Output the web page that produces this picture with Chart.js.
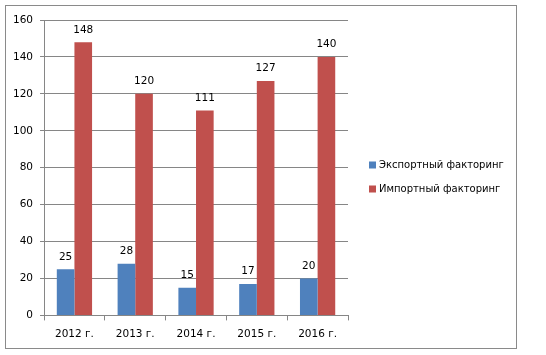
<!DOCTYPE html>
<html><head><meta charset="utf-8">
<script src="https://cdn.jsdelivr.net/npm/chart.js@4/dist/chart.umd.min.js"></script>
<style>
html,body{margin:0;padding:0;background:#fff;}
#wrap{position:relative;width:546px;height:355px;}
#frame{position:absolute;left:5px;top:5px;width:512px;height:344px;border:1px solid #8a8a8a;box-sizing:border-box;}
canvas{position:absolute;left:0;top:0;}
</style></head>
<body><div id="wrap"><div id="frame"></div><canvas id="c" width="546" height="355"></canvas></div>
<script>
const categories = ["2012 г.", "2013 г.", "2014 г.", "2015 г.", "2016 г."];
const exportValues = [25, 28, 15, 17, 20];
const importValues = [148, 120, 111, 127, 140];
const seriesNames = ["Экспортный факторинг", "Импортный факторинг"];

const FONT = "DejaVu Sans";

const valueLabels = {
  id: 'valueLabels',
  afterDatasetsDraw(chart) {
    const ctx = chart.ctx;
    ctx.save();
    ctx.font = "10.5px '" + FONT + "'";
    ctx.fillStyle = "#000";
    ctx.textAlign = "center";
    ctx.textBaseline = "bottom";
    chart.data.datasets.forEach((ds, i) => {
      const meta = chart.getDatasetMeta(i);
      meta.data.forEach((el, j) => {
        ctx.fillText(String(ds.data[j]), el.x, el.y - 7);
      });
    });
    ctx.restore();
  }
};

const sideLegend = {
  id: 'sideLegend',
  afterDraw(chart) {
    const ctx = chart.ctx;
    ctx.save();
    ctx.font = "10px '" + FONT + "'";
    ctx.textBaseline = "middle";
    ctx.textAlign = "left";
    const x0 = chart.chartArea.right + 21;
    const yc = 177;
    const gap = 24;
    chart.data.datasets.forEach((ds, i) => {
      const y = yc - gap / 2 + i * gap;
      ctx.fillStyle = ds.backgroundColor;
      ctx.fillRect(x0, y - 3.5, 7, 7);
      ctx.fillStyle = "#000";
      ctx.fillText(ds.label, x0 + 10, y);
    });
    ctx.restore();
  }
};

new Chart(document.getElementById('c'), {
  type: 'bar',
  data: {
    labels: categories,
    datasets: [
      { label: seriesNames[0], data: exportValues, backgroundColor: '#4F81BD', barPercentage: 1, categoryPercentage: 0.58 },
      { label: seriesNames[1], data: importValues, backgroundColor: '#C0504D', barPercentage: 1, categoryPercentage: 0.58 }
    ]
  },
  options: {
    responsive: false,
    animation: false,
    layout: { padding: { left: 6, top: 20, right: 198, bottom: 6 } },
    plugins: {
      legend: { display: false },
      tooltip: { enabled: false }
    },
    scales: {
      x: {
        grid: { drawOnChartArea: false, drawTicks: true, tickLength: 5, color: '#868686' },
        border: { color: '#868686' },
        ticks: { font: { family: FONT, size: 10.5 }, color: '#000', padding: 8 }
      },
      y: {
        min: 0, max: 160,
        ticks: { stepSize: 20, font: { family: FONT, size: 10.5 }, color: '#000', padding: 7 },
        grid: { color: '#868686', tickLength: 4 },
        border: { color: '#868686' }
      }
    }
  },
  plugins: [valueLabels, sideLegend]
});
</script>
</body></html>
